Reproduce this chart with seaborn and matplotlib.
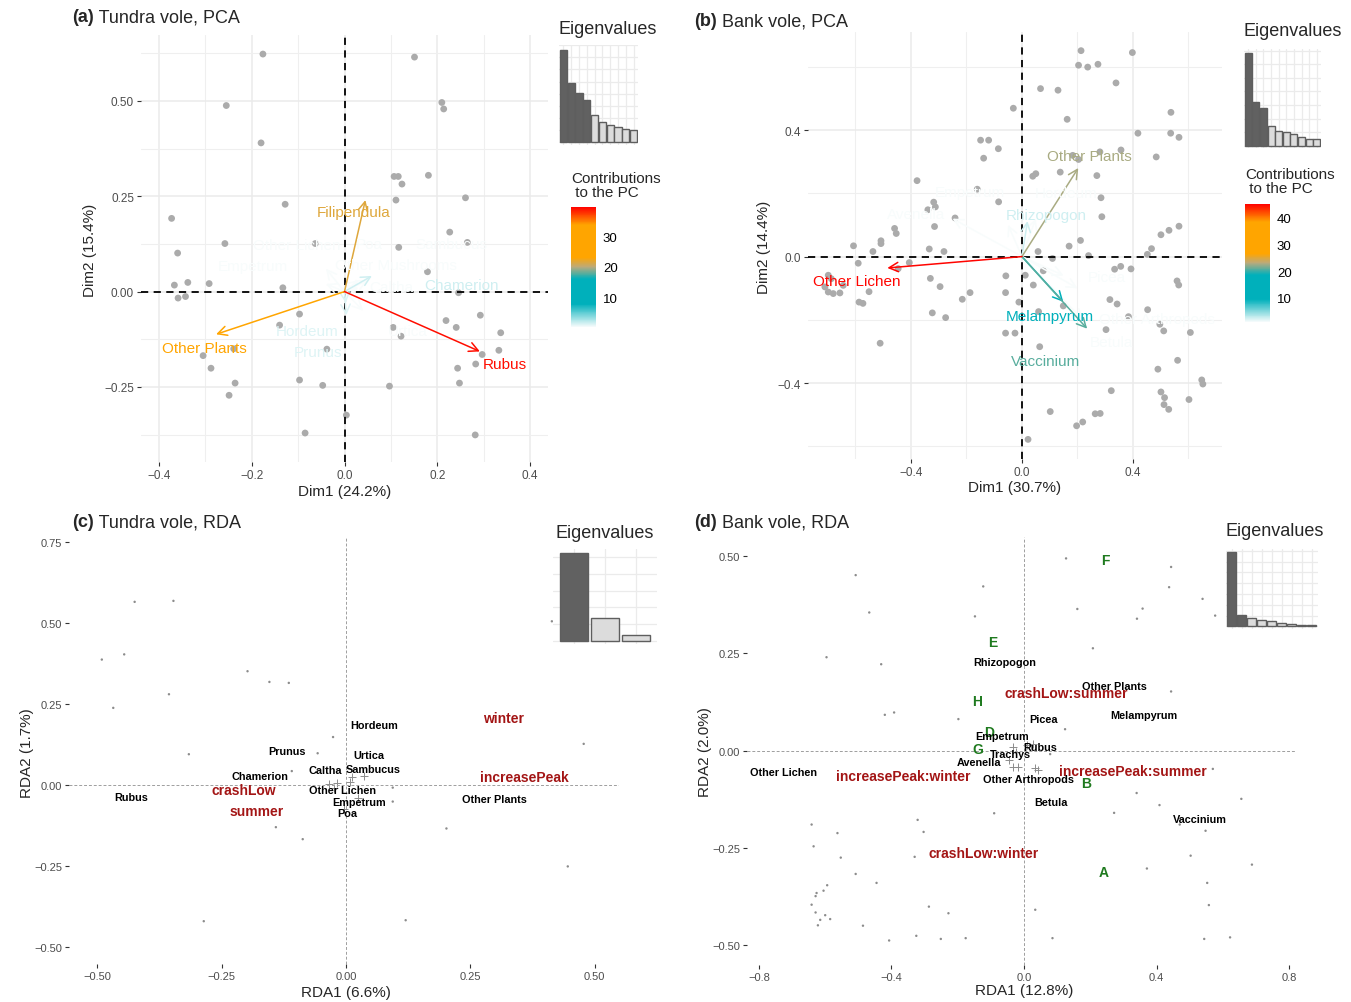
import matplotlib
matplotlib.use("Agg")
import matplotlib.pyplot as plt
import seaborn as sns
import pandas as pd
from matplotlib.colors import LinearSegmentedColormap, Normalize
from matplotlib.cm import ScalarMappable
from matplotlib.ticker import FixedLocator, FuncFormatter, MultipleLocator

sns.set_theme(style="white")
plt.rcParams['font.family'] = ['Liberation Sans', 'DejaVu Sans']

W, H = 1351, 1003

# ---------------- (a) Tundra vole, PCA ----------------
a_site_x = [-0.176, 0.151, -0.255, 0.210, 0.214, -0.180, 0.107, 0.116, 0.124, 0.181, 0.111, 0.261, -0.128,
            -0.373, 0.227, -0.360, -0.258, -0.063, 0.117, 0.265, 0.179, -0.367, -0.338, -0.292, -0.359,
            -0.343, -0.133, 0.246, -0.097, 0.293, 0.219, 0.241, 0.337, -0.140, 0.105, 0.122, -0.239,
            -0.038, 0.333, 0.297, -0.305, 0.283, -0.288, 0.244, -0.236, -0.097, -0.047, 0.097, 0.248,
            -0.249, 0.004, -0.085, 0.282]
a_site_y = [0.623, 0.615, 0.488, 0.496, 0.479, 0.390, 0.302, 0.302, 0.282, 0.305, 0.240, 0.246, 0.229,
            0.192, 0.156, 0.101, 0.126, 0.126, 0.116, 0.129, 0.052, 0.017, 0.024, 0.021, -0.017,
            -0.013, 0.010, -0.003, -0.059, -0.062, -0.076, -0.094, -0.108, -0.088, -0.094, -0.117, -0.150,
            -0.151, -0.154, -0.165, -0.168, -0.190, -0.201, -0.201, -0.240, -0.232, -0.246, -0.248, -0.240,
            -0.272, -0.324, -0.371, -0.376]
a_var_names = ['Rubus', 'Other Plants', 'Filipendula', 'Chamerion', 'Hordeum', 'Prunus', 'Other Lichen',
               'Other Mushrooms', 'Caltha', 'Urtica', 'Sambucus', 'Empetrum', 'Poa']
a_var_x = [0.292, -0.277, 0.045, 0.059, 0.004, 0.003, -0.040, 0.030, 0.030, 0.040, 0.050, -0.040, 0.010]
a_var_y = [-0.157, -0.112, 0.240, 0.041, -0.062, -0.030, 0.060, 0.030, 0.010, -0.050, 0.030, 0.020, 0.020]
a_lab_x = [0.346, -0.303, 0.019, 0.252, -0.081, -0.058, -0.104, 0.112, 0.101, 0.137, 0.231, -0.198, 0.054]
a_lab_y = [-0.189, -0.147, 0.208, 0.017, -0.104, -0.158, 0.121, 0.071, 0.012, -0.103, 0.126, 0.067, 0.126]
a_contrib = [39.0, 30.5, 21.5, 1.5, 1.1, 1.1, 0.2, 0.2, 0.25, 0.2, 0.2, 0.2, 0.2]
a_eig = [24.2, 15.4, 12.8, 11.1, 7.2, 5.3, 4.5, 3.9, 3.5, 3.1]

# ---------------- (b) Bank vole, PCA ----------------
b_site_x = [0.213, 0.398, 0.204, 0.237, 0.274, 0.339, 0.067, 0.130, -0.031, 0.163,
            0.537, 0.418, 0.536, 0.566, -0.149, -0.120, -0.085, -0.138, 0.357, 0.281,
            0.183, 0.204, 0.484, 0.138, 0.050, 0.039, 0.270, -0.378, -0.161, -0.084,
            0.285, -0.318, -0.312, -0.339, -0.315, -0.459, -0.453, -0.241, 0.288, 0.566,
            0.530, 0.501, -0.508, -0.508, -0.607, -0.537, -0.334, -0.281, 0.211, 0.170,
            0.467, 0.452, 0.058, 0.110, 0.240, -0.590, -0.406, -0.446, 0.334, 0.356,
            0.393, -0.698, -0.687, -0.710, -0.698, -0.680, -0.656, -0.644, -0.551, -0.330,
            -0.295, -0.058, 0.012, 0.041, 0.077, 0.559, 0.565, -0.187, -0.215, -0.059,
            0.317, 0.343, -0.011, 0.149, -0.587, -0.573, -0.323, -0.275, 0.060, 0.384,
            0.453, 0.497, 0.511, 0.607, 0.303, -0.059, -0.025, 0.064, -0.511, 0.561,
            0.490, 0.322, 0.501, 0.514, 0.512, 0.529, 0.602, 0.648, 0.652, 0.102,
            0.197, 0.219, 0.264, 0.282, 0.022]
b_site_y = [0.651, 0.645, 0.605, 0.599, 0.608, 0.549, 0.531, 0.526, 0.469, 0.434,
            0.456, 0.390, 0.390, 0.377, 0.368, 0.368, 0.341, 0.311, 0.337, 0.331,
            0.320, 0.307, 0.315, 0.267, 0.262, 0.254, 0.256, 0.240, 0.213, 0.173,
            0.186, 0.172, 0.157, 0.148, 0.095, 0.089, 0.073, 0.122, 0.126, 0.096,
            0.083, 0.069, 0.050, 0.041, 0.034, 0.016, 0.024, 0.016, 0.051, 0.033,
            0.025, 0.007, 0.016, -0.006, 0.003, -0.021, -0.019, -0.038, -0.040, -0.031,
            -0.039, -0.059, -0.070, -0.096, -0.112, -0.117, -0.115, -0.091, -0.111, -0.069,
            -0.095, -0.061, -0.059, -0.090, -0.045, -0.077, -0.090, -0.114, -0.135, -0.114,
            -0.136, -0.150, -0.144, -0.156, -0.144, -0.148, -0.178, -0.193, -0.174, -0.190,
            -0.168, -0.214, -0.235, -0.240, -0.231, -0.242, -0.242, -0.285, -0.274, -0.328,
            -0.356, -0.424, -0.428, -0.446, -0.468, -0.483, -0.452, -0.390, -0.403, -0.490,
            -0.535, -0.523, -0.497, -0.496, -0.578]
b_var_names = ['Other Lichen', 'Other Plants', 'Vaccinium', 'Melampyrum', 'Rhizopogon', 'Picea', 'Betula',
               'Avenella', 'Hordeum', 'Other Arthropods', 'Empetrum']
b_var_x = [-0.485, 0.203, 0.235, 0.149, 0.020, 0.150, 0.220, -0.250, 0.050, 0.200, -0.050]
b_var_y = [-0.036, 0.280, -0.228, -0.143, 0.112, -0.060, -0.200, 0.120, 0.120, -0.100, 0.100]
b_lab_x = [-0.596, 0.243, 0.084, 0.101, 0.089, 0.305, 0.323, -0.380, 0.161, 0.485, -0.187]
b_lab_y = [-0.078, 0.317, -0.331, -0.187, 0.133, -0.064, -0.270, 0.136, 0.202, -0.196, 0.204]
b_contrib = [45.0, 22.6, 20.8, 17.5, 2.4, 1.1, 1.1, 1.0, 1.0, 1.0, 1.0]
b_eig = [30.7, 14.4, 12.5, 6.4, 4.9, 4.4, 3.8, 2.8, 2.3, 2.1]

# ---------------- (c) Tundra vole, RDA ----------------
c_site_x = [-0.425, -0.347, -0.446, -0.491, -0.198, -0.154, -0.115, -0.356, -0.468, -0.026, -0.316, -0.057,
            -0.109, 0.478, 0.414, 0.094, 0.094, -0.141, -0.087, 0.202, 0.446, -0.286, 0.120]
c_site_y = [0.565, 0.568, 0.403, 0.387, 0.351, 0.318, 0.315, 0.280, 0.238, 0.148, 0.095, 0.098,
            0.043, 0.127, 0.505, -0.008, -0.051, -0.130, -0.167, -0.134, -0.251, -0.420, -0.417]
c_sp_x = [-0.035, -0.018, 0.013, 0.037, 0.025, -0.003, -0.025, 0.008]
c_sp_y = [0.002, 0.005, 0.026, 0.028, -0.039, -0.074, -0.010, 0.010]
c_sp_names = ['Hordeum', 'Prunus', 'Urtica', 'Caltha', 'Sambucus', 'Chamerion', 'Rubus', 'Other Lichen',
              'Empetrum', 'Poa', 'Other Plants']
c_sp_lx = [0.056, -0.119, 0.046, -0.042, 0.054, -0.174, -0.432, -0.008, 0.027, 0.003, 0.299]
c_sp_ly = [0.184, 0.104, 0.092, 0.046, 0.048, 0.028, -0.038, -0.015, -0.053, -0.086, -0.043]
c_var_names = ['winter', 'increasePeak', 'crashLow', 'summer']
c_var_lx = [0.317, 0.359, -0.206, -0.180]
c_var_ly = [0.208, 0.024, -0.014, -0.079]
c_eig = [6.6, 1.7, 0.42]

# ---------------- (d) Bank vole, RDA ----------------
d_site_x = [-0.508, -0.123, 0.127, 0.444, 0.438, 0.539, 0.577, 0.358, 0.341, 0.161,
            -0.148, -0.467, 0.208, -0.596, -0.431, 0.444, -0.392, -0.420, -0.198, 0.124,
            0.079, 0.570, 0.340, 0.409, 0.656, 0.272, -0.090, 0.470, 0.548, -0.321,
            -0.303, -0.563, -0.641, -0.635, -0.553, -0.330, 0.503, 0.688, 0.371, -0.508,
            -0.445, 0.553, -0.594, -0.605, -0.626, -0.629, -0.641, -0.629, -0.600, -0.585,
            -0.615, -0.622, -0.287, -0.228, -0.486, 0.034, 0.558, -0.325, -0.407, -0.251,
            -0.176, 0.086, 0.544, 0.622]
d_site_y = [0.451, 0.422, 0.494, 0.472, 0.420, 0.390, 0.347, 0.365, 0.339, 0.364,
            0.345, 0.355, 0.263, 0.240, 0.222, 0.152, 0.098, 0.092, 0.081, 0.055,
            -0.009, -0.047, -0.109, -0.140, -0.124, -0.160, -0.161, -0.190, -0.206, -0.178,
            -0.209, -0.212, -0.190, -0.246, -0.275, -0.273, -0.270, -0.293, -0.303, -0.317,
            -0.340, -0.340, -0.346, -0.360, -0.366, -0.374, -0.396, -0.416, -0.423, -0.433,
            -0.435, -0.449, -0.401, -0.418, -0.450, -0.409, -0.397, -0.476, -0.488, -0.484,
            -0.482, -0.482, -0.484, -0.480]
d_sp_x = [-0.032, -0.023, 0.009, 0.028, -0.046, -0.032, -0.019, 0.032, 0.042]
d_sp_y = [0.008, -0.003, 0.014, 0.018, -0.024, -0.042, -0.042, -0.044, -0.049]
d_sp_names = ['Rhizopogon', 'Other Plants', 'Melampyrum', 'Picea', 'Empetrum', 'Rubus', 'Trachys',
              'Avenella', 'Other Lichen', 'Other Arthropods', 'Betula', 'Vaccinium']
d_sp_lx = [-0.057, 0.273, 0.362, 0.060, -0.065, 0.049, -0.042, -0.137, -0.725, 0.013, 0.081, 0.532]
d_sp_ly = [0.228, 0.165, 0.092, 0.080, 0.038, 0.008, -0.008, -0.028, -0.054, -0.072, -0.131, -0.177]
d_var_names = ['crashLow:summer', 'increasePeak:winter', 'increasePeak:summer', 'crashLow:winter']
d_var_lx = [0.127, -0.365, 0.329, -0.122]
d_var_ly = [0.148, -0.064, -0.052, -0.264]
d_grp_names = ['F', 'E', 'H', 'D', 'G', 'B', 'A']
d_grp_lx = [0.245, -0.095, -0.142, -0.104, -0.140, 0.188, 0.241]
d_grp_ly = [0.490, 0.278, 0.128, 0.047, 0.003, -0.083, -0.313]
d_eig = [12.8, 2.0, 1.5, 1.15, 0.87, 0.58, 0.40, 0.29, 0.17]

contrib_cmap = LinearSegmentedColormap.from_list(
    'contrib', [(0.0, '#F8FCFC'), (0.19, '#00B0BB'), (0.40, '#00B0BB'), (0.50, '#BBAA7C'),
                (0.58, '#FFA500'), (0.85, '#FFA500'), (1.0, '#FF0000')])

fig = plt.figure(figsize=(W / 100, H / 100), dpi=100)


def px_axes(l, t, r, b):
    return fig.add_axes([l / W, 1 - b / H, (r - l) / W, (b - t) / H])


def fmt(dec):
    return FuncFormatter(lambda v, p: f"{v:.{dec}f}".replace('-', '\u2212'))


def ftext(x, y, s, **kw):
    return fig.text(x / W, 1 - y / H, s, **kw)


def panel_title(ax, x, y, tag, rest):
    t = ftext(x, y, tag, fontsize=13, fontweight='bold', ha='left', va='center')
    ax.annotate(rest, xy=(1, 0.5), xycoords=t, ha='left', va='center', fontsize=13)


def style_axes(ax, xlim, ylim, xt, yt, xdec, ydec, size):
    ax.set_xlim(xlim)
    ax.set_ylim(ylim)
    ax.set_xlabel('')
    ax.set_ylabel('')
    for s in ax.spines.values():
        s.set_visible(False)
    ax.xaxis.set_major_locator(FixedLocator(xt))
    ax.yaxis.set_major_locator(FixedLocator(yt))
    ax.xaxis.set_major_formatter(fmt(xdec))
    ax.yaxis.set_major_formatter(fmt(ydec))
    ax.tick_params(which='major', direction='out', length=3, width=0.8, color='#333333',
                   labelsize=size, labelcolor='#4D4D4D', pad=2, bottom=True, left=True)
    ax.tick_params(which='minor', length=0)


def pca_panel(ax, sx, sy, names, vx, vy, lx, ly, contrib, norm, xlim, ylim, xt, xm, yt, ym, xdec, ydec):
    sns.scatterplot(x=sx, y=sy, color='#ABABAB', s=24, edgecolor='none', ax=ax, zorder=2)
    style_axes(ax, xlim, ylim, xt, yt, xdec, ydec, 8.5)
    ax.xaxis.set_minor_locator(FixedLocator(xm))
    ax.yaxis.set_minor_locator(FixedLocator(ym))
    ax.grid(True, which='major', color='#EBEBEB', lw=1.1)
    ax.grid(True, which='minor', color='#EFEFEF', lw=0.8)
    ax.set_axisbelow(True)
    ax.axhline(0, color='black', lw=1.3, ls=(0, (4, 3)), zorder=3)
    ax.axvline(0, color='black', lw=1.3, ls=(0, (4, 3)), zorder=3)
    order = sorted(range(len(names)), key=lambda i: contrib[i])
    for i in order:
        col = contrib_cmap(norm(contrib[i]))
        ax.annotate('', xy=(vx[i], vy[i]), xytext=(0, 0),
                    arrowprops=dict(arrowstyle='->,head_length=0.55,head_width=0.28', color=col, lw=1.1,
                                    shrinkA=0, shrinkB=0, mutation_scale=12), zorder=4)
        ax.text(lx[i], ly[i], names[i], color=col, fontsize=11, ha='center', va='center', zorder=5)


def eigen_inset(ax, vals, n_dark, xlim, ylim, step):
    df = pd.DataFrame({'dim': [str(i + 1) for i in range(len(vals))], 'pct': vals})
    cols = ['#616161' if i < n_dark else '#DCDCDC' for i in range(len(vals))]
    sns.barplot(data=df, x='dim', y='pct', hue='dim', palette=cols, legend=False, width=0.92,
                edgecolor='#5E5E5E', linewidth=1.0, ax=ax)
    ax.set_xlim(xlim)
    ax.set_ylim(ylim)
    ax.yaxis.set_major_locator(MultipleLocator(step))
    ax.grid(True, color='#EBEBEB', lw=0.9)
    ax.set_axisbelow(True)
    ax.tick_params(length=0, labelbottom=False, labelleft=False)
    ax.set_xlabel('')
    ax.set_ylabel('')
    for s in ax.spines.values():
        s.set_visible(False)


def contrib_bar(l, t, r, b, norm, ticks):
    cax = px_axes(l, t, r, b)
    cb = fig.colorbar(ScalarMappable(norm=norm, cmap=contrib_cmap), cax=cax)
    cb.outline.set_visible(False)
    cb.set_ticks(ticks)
    cax.minorticks_off()
    cax.tick_params(which='major', direction='in', length=4.5, width=1, color='white', left=True, right=True,
                    labelleft=False, labelright=True, labelsize=9.5, labelcolor='black', pad=5)


def rda_panel(ax, sx, sy, spx, spy, sp_names, sp_lx, sp_ly, var_names, var_lx, var_ly, xlim, ylim, xt, yt,
              xdec, grp=None):
    sns.scatterplot(x=sx, y=sy, color='#8C8C8C', s=3, edgecolor='none', ax=ax)
    sns.scatterplot(x=spx, y=spy, marker='+', color='#8C8C8C', s=28, linewidth=0.7, ax=ax)
    style_axes(ax, xlim, ylim, xt, yt, xdec, 2, 8)
    ax.grid(False)
    ax.axhline(0, color='#9E9E9E', lw=0.7, ls=(0, (3, 2)), zorder=1)
    ax.axvline(0, color='#9E9E9E', lw=0.7, ls=(0, (3, 2)), zorder=1)
    if grp is not None:
        for n, x, y in zip(*grp):
            ax.text(x, y, n, color='#1F7A1F', fontsize=10, fontweight='bold', ha='center', va='center')
    for n, x, y in zip(var_names, var_lx, var_ly):
        ax.text(x, y, n, color='#A31515', fontsize=10, fontweight='bold', ha='center', va='center')
    for n, x, y in zip(sp_names, sp_lx, sp_ly):
        ax.text(x, y, n, color='black', fontsize=7.8, fontweight='bold', ha='center', va='center')


# ---- panel (a)
ax_a = px_axes(141, 36, 548, 463)
norm_a = Normalize(0.2, 39.5)
pca_panel(ax_a, a_site_x, a_site_y, a_var_names, a_var_x, a_var_y, a_lab_x, a_lab_y, a_contrib, norm_a,
          (-0.439, 0.439), (-0.447, 0.673), [-0.4, -0.2, 0.0, 0.2, 0.4], [-0.3, -0.1, 0.1, 0.3],
          [-0.25, 0.0, 0.25, 0.5], [-0.375, -0.125, 0.125, 0.375, 0.625], 1, 2)
panel_title(ax_a, 72, 18, '(a)', ' Tundra vole, PCA')
ftext(345, 492, 'Dim1 (24.2%)', fontsize=11, ha='center', va='center')
ftext(90, 250, 'Dim2 (15.4%)', fontsize=11, ha='center', va='center', rotation=90)
eigen_inset(px_axes(559, 46, 638, 146), a_eig, 4, (-0.55, 9.55), (-0.7, 25.4), 3.17)
ftext(608, 29, 'Eigenvalues', fontsize=13, ha='center', va='center')
ftext(571, 172, 'Contributions\n to the PC', fontsize=11, ha='left', va='top', linespacing=1.0)
contrib_bar(571, 208, 596, 328, norm_a, [10, 20, 30])

# ---- panel (b)
ax_b = px_axes(808, 33, 1222, 460)
norm_b = Normalize(1.0, 45.2)
pca_panel(ax_b, b_site_x, b_site_y, b_var_names, b_var_x, b_var_y, b_lab_x, b_lab_y, b_contrib, norm_b,
          (-0.771, 0.721), (-0.640, 0.710), [-0.4, 0.0, 0.4], [-0.6, -0.2, 0.2, 0.6],
          [-0.4, 0.0, 0.4], [-0.6, -0.2, 0.2, 0.6], 1, 1)
panel_title(ax_b, 694, 22, '(b)', ' Bank vole, PCA')
ftext(1015, 488, 'Dim1 (30.7%)', fontsize=11, ha='center', va='center')
ftext(764, 247, 'Dim2 (14.4%)', fontsize=11, ha='center', va='center', rotation=90)
eigen_inset(px_axes(1244, 50, 1321, 149), b_eig, 3, (-0.55, 9.55), (-0.76, 32.0), 4.5)
ftext(1293, 32, 'Eigenvalues', fontsize=13, ha='center', va='center')
ftext(1245, 168, 'Contributions\n to the PC', fontsize=11, ha='left', va='top', linespacing=1.0)
contrib_bar(1245, 205, 1270, 323, norm_b, [10, 20, 30, 40])

# ---- panel (c)
ax_c = px_axes(69, 538, 619, 965)
rda_panel(ax_c, c_site_x, c_site_y, c_sp_x, c_sp_y, c_sp_names, c_sp_lx, c_sp_ly,
          c_var_names, c_var_lx, c_var_ly, (-0.557, 0.549), (-0.552, 0.765),
          [-0.5, -0.25, 0.0, 0.25, 0.5], [-0.5, -0.25, 0.0, 0.25, 0.5, 0.75], 2)
panel_title(ax_c, 72, 523, '(c)', ' Tundra vole, RDA')
ftext(346, 993, 'RDA1 (6.6%)', fontsize=11, ha='center', va='center')
ftext(27, 753, 'RDA2 (1.7%)', fontsize=11, ha='center', va='center', rotation=90)
eigen_inset(px_axes(553, 550, 657, 645), c_eig, 1, (-0.7, 2.7), (-0.25, 6.88), 1.25)
ftext(605, 533, 'Eigenvalues', fontsize=13, ha='center', va='center')

# ---- panel (d)
ax_d = px_axes(747, 538, 1296, 966)
rda_panel(ax_d, d_site_x, d_site_y, d_sp_x, d_sp_y, d_sp_names, d_sp_lx, d_sp_ly,
          d_var_names, d_var_lx, d_var_ly, (-0.836, 0.821), (-0.551, 0.549),
          [-0.8, -0.4, 0.0, 0.4, 0.8], [-0.5, -0.25, 0.0, 0.25, 0.5], 1,
          grp=(d_grp_names, d_grp_lx, d_grp_ly))
panel_title(ax_d, 694, 523, '(d)', ' Bank vole, RDA')
ftext(1024, 991, 'RDA1 (12.8%)', fontsize=11, ha='center', va='center')
ftext(705, 752, 'RDA2 (2.0%)', fontsize=11, ha='center', va='center', rotation=90)
eigen_inset(px_axes(1226, 550, 1318, 630), d_eig, 2, (-0.55, 8.65), (-0.47, 13.4), 1.87)
ftext(1275, 532, 'Eigenvalues', fontsize=13, ha='center', va='center')

fig.savefig('out.png', dpi=100)
